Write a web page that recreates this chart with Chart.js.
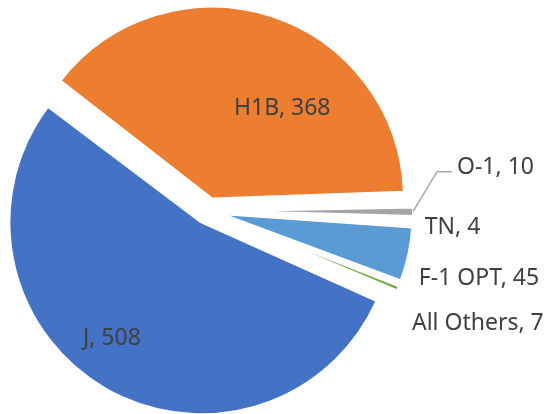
<!DOCTYPE html>
<html>
<head>
<meta charset="utf-8">
<script src="https://cdn.jsdelivr.net/npm/chart.js@4/dist/chart.umd.min.js"></script>
<style>
  html, body { margin: 0; padding: 0; background: #ffffff; }
</style>
</head>
<body>
<canvas id="c" width="547" height="414"></canvas>
<script>
// ---- data ----
const categories = ['J', 'H1B', 'O-1', 'TN', 'F-1 OPT', 'All Others'];
const counts = [508, 368, 10, 4, 45, 7];

// ---- styles ----
const sliceColors = ['#4472C4', '#ED7D31', '#A5A5A5', '#FFC000', '#5B9BD5', '#70AD47'];
const BORDER = 2.5;
const VISIBLE_RADIUS = 191;
const EXPLODE_PX = 13;           // visible explosion distance of every slice
const labelFont = '23px "Noto Sans", "Open Sans", sans-serif';
const labelColor = '#404040';

// label placement: inside labels use fraction along the arc and depth (fraction of radius);
// outside labels use a nudge from the slice's outer mid point (left edge / baseline)
const labelPlace = [
  { inside: true, along: 0.538, depth: 0.762 },
  { inside: true, along: 0.639, depth: 0.604 },
  { inside: false, dx: 45, dy: -38, leader: true },
  { inside: false, dx: 13, dy: 13 },
  { inside: false, dx: 11.5, dy: 31 },
  { inside: false, dx: 15, dy: 42.5 }
];

// Chart.js grows the radius of offset arcs; undo that so every slice keeps the same radius
const keepRadius = {
  id: 'keepRadius',
  beforeDatasetsDraw(chart) {
    const meta = chart.getDatasetMeta(0);
    const base = meta.controller.outerRadius;
    meta.data.forEach(arc => {
      const o = (arc.options.offset || 0) / 4;
      const fix = 1 - Math.sin(Math.min(Math.PI, arc.circumference));
      arc.outerRadius = base - o * fix;
    });
  }
};

const sliceLabels = {
  id: 'sliceLabels',
  afterDatasetsDraw(chart) {
    const meta = chart.getDatasetMeta(0);
    const ctx = chart.ctx;
    const R = meta.controller.outerRadius - BORDER / 2;
    ctx.save();
    ctx.font = labelFont;
    ctx.fillStyle = labelColor;
    meta.data.forEach((arc, i) => {
      const text = categories[i] + ', ' + counts[i];
      const shift = (arc.options.offset || 0) / 4;
      const mid = (arc.startAngle + arc.endAngle) / 2;
      const ox = arc.x + Math.cos(mid) * shift;
      const oy = arc.y + Math.sin(mid) * shift;
      const p = labelPlace[i];
      if (p.inside) {
        const a = arc.startAngle + p.along * (arc.endAngle - arc.startAngle);
        const x = ox + Math.cos(a) * p.depth * R;
        const y = oy + Math.sin(a) * p.depth * R;
        ctx.textAlign = 'center';
        ctx.textBaseline = 'alphabetic';
        ctx.fillText(text, x, y + 8);
      } else {
        const ex = ox + Math.cos(mid) * R;
        const ey = oy + Math.sin(mid) * R;
        const tx = ex + p.dx;
        const ty = ey + p.dy;
        ctx.textAlign = 'left';
        ctx.textBaseline = 'alphabetic';
        ctx.fillText(text, tx, ty);
        if (p.leader) {
          ctx.save();
          ctx.strokeStyle = '#A5A5A5';
          ctx.lineWidth = 1.5;
          ctx.beginPath();
          ctx.moveTo(ex + 1, ey);
          ctx.lineTo(tx - 20, ty - 2);
          ctx.lineTo(tx - 5, ty - 2);
          ctx.stroke();
          ctx.restore();
        }
      }
    });
    ctx.restore();
  }
};

new Chart(document.getElementById('c'), {
  type: 'pie',
  data: {
    labels: categories,
    datasets: [{
      data: counts,
      backgroundColor: sliceColors,
      borderColor: '#ffffff',
      borderWidth: BORDER,
      offset: EXPLODE_PX * 4,
      radius: VISIBLE_RADIUS + BORDER / 2
    }]
  },
  options: {
    responsive: false,
    animation: false,
    rotation: 113.5,
    layout: { padding: { left: 0, top: 8, right: 131, bottom: 0 } },
    plugins: {
      legend: { display: false },
      tooltip: { enabled: false }
    }
  },
  plugins: [keepRadius, sliceLabels]
});
</script>
</body>
</html>
